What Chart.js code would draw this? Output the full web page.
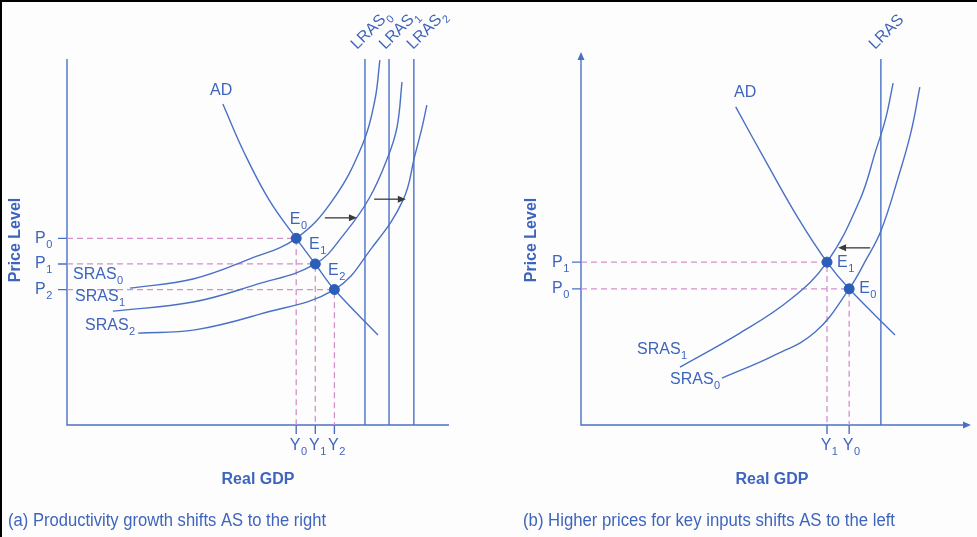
<!DOCTYPE html>
<html lang="en">
<head>
<meta charset="UTF-8">
<title>Aggregate supply shifts</title>
<style>
    html, body {
        margin: 0;
        padding: 0;
        background: #fdfdfe;
    }
    body {
        width: 977px;
        height: 537px;
        position: relative;
        overflow: hidden;
    }
    canvas {
        position: absolute;
        top: 0;
    }
    #panelA { left: 0; }
    #panelB { left: 490px; }
    .edge { position: absolute; background: #000; }
</style>
</head>
<body>
<div class="edge" style="left:0;top:0;width:977px;height:2px"></div>
<div class="edge" style="left:0;top:0;width:2px;height:537px"></div>
<canvas id="panelA" width="490" height="537"></canvas>
<canvas id="panelB" width="487" height="537"></canvas>

<script src="https://cdn.jsdelivr.net/npm/chart.js"></script>
<script>
    // ---------- panel (a): productivity growth ----------
    const aYs = [60, 65, 70];            // Y0, Y1, Y2
    const aPs = [51, 44, 37];            // P0, P1, P2
    const aLras = [78, 84.3, 90.8];      // LRAS0, LRAS1, LRAS2
    const aAdX = [40.8, 46.3, 52.9, 60, 65, 70, 81.4];
    const aAdY = [87.7, 74.6, 61.5, 51, 44, 37, 24.6];
    const aSras0X = [16.5, 33.0, 47.9, 60, 69.6, 77.5, 80.6, 81.9];
    const aSras0Y = [37.4, 39.9, 45.4, 51, 61.5, 77.0, 88.8, 99.7];
    const aSras1X = [12.0, 33.0, 49.2, 65, 72.8, 79.3, 84.0, 86.4, 87.7];
    const aSras1Y = [31.1, 33.6, 38.3, 44, 52.5, 62.3, 73.2, 81.4, 93.7];
    const aSras2X = [18.6, 33.5, 50.5, 70, 79.8, 88.0, 91.1, 92.9, 94.2];
    const aSras2Y = [25.1, 26.0, 30.3, 37, 48.4, 61.5, 73.8, 81.1, 87.4];
    const aArrowFrom = [67.5, 80.4];
    const aArrowTo = [75.9, 88.7];
    const aArrowY = [56.6, 61.7];

    // ---------- panel (b): higher input prices ----------
    const bYs = [70.2, 64.4];            // Y0, Y1
    const bPs = [37.2, 44.5];            // P0, P1
    const bLras = [78.5];
    const bAdX = [40.5, 48.6, 56.8, 64.4, 70.2, 82.2];
    const bAdY = [86.9, 71.6, 56.6, 44.5, 37.2, 24.6];
    const bSras0X = [36.9, 50.3, 61.3, 70.2, 74.6, 78.5, 83.0, 86.4, 88.7];
    const bSras0Y = [12.8, 18.9, 25.4, 37.2, 45.1, 53.0, 67.5, 80.1, 92.3];
    const bSras1X = [25.9, 41.6, 54.7, 64.4, 73.0, 77.2, 79.8, 81.7];
    const bSras1Y = [15.8, 25.1, 34.2, 44.5, 61.5, 75.1, 83.9, 93.4];
    const bArrowFrom = [75.7];
    const bArrowTo = [67.3];
    const bArrowY = [48.4];

    const LINE = '#4a70c6';
    const TEXT = '#3e65bd';
    const DOT = '#2b5eb8';
    const DASH = '#d68fcb';
    const FONT = '"Liberation Sans", Arial, sans-serif';

    function pts(xs, ys) {
        return xs.map((x, i) => ({ x: x, y: ys[i] }));
    }

    // order: lower number is drawn on top
    function curve(xs, ys) {
        return {
            data: pts(xs, ys),
            showLine: true,
            borderColor: LINE,
            borderWidth: 1.4,
            pointRadius: 0,
            tension: 0.4,
            clip: false,
            order: 2
        };
    }

    function dashed(yv, pv) {
        return {
            data: [{ x: 0, y: pv }, { x: yv, y: pv }, { x: yv, y: 0 }],
            showLine: true,
            borderColor: DASH,
            borderWidth: 1.3,
            borderDash: [6, 4],
            pointRadius: 0,
            tension: 0,
            order: 4
        };
    }

    function vertical(x) {
        return {
            data: [{ x: x, y: 0 }, { x: x, y: 100 }],
            showLine: true,
            borderColor: LINE,
            borderWidth: 1.4,
            pointRadius: 0,
            order: 3
        };
    }

    function equilibria(ys, ps) {
        return {
            data: pts(ys, ps),
            pointRadius: 5,
            pointBackgroundColor: DOT,
            pointBorderColor: DOT,
            showLine: false,
            order: 1
        };
    }

    function drawSub(ctx, main, sub, x, y, size, align, bold) {
        ctx.font = (bold ? 'bold ' : '') + size + 'px ' + FONT;
        ctx.textBaseline = 'middle';
        ctx.textAlign = 'left';
        const w = ctx.measureText(main).width;
        const x0 = align === 'center' ? x - w / 2 : x;
        ctx.fillText(main, x0, y);
        if (sub) {
            ctx.font = Math.round(size * 0.66) + 'px ' + FONT;
            ctx.fillText(sub, x0 + w + 0.5, y + size * 0.4);
        }
    }

    function arrowHead(ctx, x, y, dir) {
        // dir: 'left', 'right', 'up'
        ctx.beginPath();
        if (dir === 'right') {
            ctx.moveTo(x, y); ctx.lineTo(x - 8, y - 3.5); ctx.lineTo(x - 8, y + 3.5);
        } else if (dir === 'left') {
            ctx.moveTo(x, y); ctx.lineTo(x + 8, y - 3.5); ctx.lineTo(x + 8, y + 3.5);
        } else {
            ctx.moveTo(x, y); ctx.lineTo(x - 3.5, y + 8); ctx.lineTo(x + 3.5, y + 8);
        }
        ctx.closePath();
        ctx.fill();
    }

    const econPlugin = {
        id: 'econ',
        beforeDatasetsDraw(chart, args, o) {
            const { ctx, chartArea: a } = chart;
            const sx = chart.scales.x, sy = chart.scales.y;
            ctx.save();
            ctx.strokeStyle = LINE;
            ctx.fillStyle = LINE;
            ctx.lineWidth = 1.4;
            ctx.beginPath();
            ctx.moveTo(a.left, o.axisArrows ? a.top - 4 : a.top);
            ctx.lineTo(a.left, a.bottom);
            ctx.lineTo(o.axisArrows ? a.right + 4 : a.right, a.bottom);
            ctx.stroke();
            if (o.axisArrows) {
                arrowHead(ctx, a.left, a.top - 7, 'up');
                arrowHead(ctx, a.right + 8, a.bottom, 'right');
            }
            // tick marks
            ctx.beginPath();
            o.ps.forEach(p => {
                const y = sy.getPixelForValue(p);
                ctx.moveTo(a.left - 9, y); ctx.lineTo(a.left, y);
            });
            o.ys.forEach(v => {
                const x = sx.getPixelForValue(v);
                ctx.moveTo(x, a.bottom); ctx.lineTo(x, a.bottom + 9);
            });
            ctx.stroke();
            ctx.restore();
        },
        afterDatasetsDraw(chart, args, o) {
            const { ctx, chartArea: a } = chart;
            const sx = chart.scales.x, sy = chart.scales.y;
            const off = o.offsetX;
            ctx.save();

            // shift arrows
            ctx.strokeStyle = '#3a3a3a';
            ctx.fillStyle = '#3a3a3a';
            ctx.lineWidth = 1.3;
            o.arrowFrom.forEach((f, i) => {
                const x1 = sx.getPixelForValue(f), x2 = sx.getPixelForValue(o.arrowTo[i]);
                const y = sy.getPixelForValue(o.arrowY[i]);
                const dir = x2 > x1 ? 'right' : 'left';
                ctx.beginPath();
                ctx.moveTo(x1, y);
                ctx.lineTo(dir === 'right' ? x2 - 6 : x2 + 6, y);
                ctx.stroke();
                arrowHead(ctx, x2, y, dir);
            });

            ctx.fillStyle = TEXT;
            // P labels
            o.ps.forEach((p, i) => {
                drawSub(ctx, 'P', o.pSubs[i], o.pLabelX - off, sy.getPixelForValue(p), 16);
            });
            // Y labels
            o.ys.forEach((v, i) => {
                drawSub(ctx, 'Y', o.ySubs[i], sx.getPixelForValue(v) - 1, a.bottom + 21, 16, 'center');
            });
            // E labels
            o.ys.forEach((v, i) => {
                const x = sx.getPixelForValue(v), y = sy.getPixelForValue(o.ps[i]);
                if (o.eAbove) {
                    drawSub(ctx, 'E', o.ySubs[i], x - 1, y - 19, 16, 'center');
                } else {
                    drawSub(ctx, 'E', o.ySubs[i], x + 10, y, 16);
                }
            });
            // LRAS labels (rotated)
            o.lras.forEach((v, i) => {
                const x = sx.getPixelForValue(v) + o.lrasDx[i];
                ctx.save();
                ctx.translate(x, a.top - 12);
                ctx.rotate(-Math.PI / 4);
                drawSub(ctx, 'LRAS', o.lrasSubs[i], 0, 0, 16);
                ctx.restore();
            });
            // free labels
            o.labels.forEach(l => {
                drawSub(ctx, l.main, l.sub, l.x - off, l.y, 16);
            });
            // axis titles
            ctx.font = 'bold 16px ' + FONT;
            ctx.textAlign = 'center';
            ctx.textBaseline = 'middle';
            ctx.fillText('Real GDP', (a.left + a.right) / 2, 480);
            ctx.save();
            ctx.translate(o.titleX - off, 240);
            ctx.rotate(-Math.PI / 2);
            ctx.fillText('Price Level', 0, 0);
            ctx.restore();
            // caption
            ctx.font = '18px ' + FONT;
            ctx.textAlign = 'left';
            ctx.fillText(o.caption, o.captionX - off, 521, o.captionW);
            ctx.restore();
        }
    };

    function makeChart(id, datasets, pad, econ) {
        return new Chart(document.getElementById(id), {
            type: 'scatter',
            data: { datasets: datasets },
            options: {
                responsive: false,
                animation: false,
                layout: { padding: pad },
                scales: {
                    x: { type: 'linear', min: 0, max: 100, display: false },
                    y: { type: 'linear', min: 0, max: 100, display: false }
                },
                plugins: {
                    legend: { display: false },
                    tooltip: { enabled: false },
                    econ: econ
                }
            },
            plugins: [econPlugin]
        });
    }

    makeChart('panelA', [
        ...aYs.map((v, i) => dashed(v, aPs[i])),
        ...aLras.map(vertical),
        curve(aAdX, aAdY),
        curve(aSras0X, aSras0Y),
        curve(aSras1X, aSras1Y),
        curve(aSras2X, aSras2Y),
        equilibria(aYs, aPs)
    ], { left: 67, right: 41, top: 59, bottom: 112 }, {
        offsetX: 0,
        axisArrows: false,
        ys: aYs, ps: aPs,
        ySubs: ['0', '1', '2'], pSubs: ['0', '1', '2'],
        pLabelX: 35,
        eAbove: true,
        lras: aLras, lrasSubs: ['0', '1', '2'], lrasDx: [-11, -7, -4],
        arrowFrom: aArrowFrom, arrowTo: aArrowTo, arrowY: aArrowY,
        labels: [
            { main: 'AD', sub: '', x: 210, y: 91 },
            { main: 'SRAS', sub: '0', x: 73, y: 275 },
            { main: 'SRAS', sub: '1', x: 75, y: 297 },
            { main: 'SRAS', sub: '2', x: 85, y: 326 }
        ],
        titleX: 16,
        caption: '(a) Productivity growth shifts AS to the right',
        captionX: 8, captionW: 318
    });

    makeChart('panelB', [
        ...bYs.map((v, i) => dashed(v, bPs[i])),
        ...bLras.map(vertical),
        curve(bAdX, bAdY),
        curve(bSras0X, bSras0Y),
        curve(bSras1X, bSras1Y),
        equilibria(bYs, bPs)
    ], { left: 91, right: 14, top: 59, bottom: 112 }, {
        offsetX: 490,
        axisArrows: true,
        ys: bYs, ps: bPs,
        ySubs: ['0', '1'], pSubs: ['0', '1'],
        pLabelX: 552,
        eAbove: false,
        lras: bLras, lrasSubs: [''], lrasDx: [-9],
        arrowFrom: bArrowFrom, arrowTo: bArrowTo, arrowY: bArrowY,
        labels: [
            { main: 'AD', sub: '', x: 734, y: 93 },
            { main: 'SRAS', sub: '1', x: 637, y: 350 },
            { main: 'SRAS', sub: '0', x: 670, y: 380 }
        ],
        titleX: 532,
        caption: '(b) Higher prices for key inputs shifts AS to the left',
        captionX: 523, captionW: 372
    });
</script>
</body>
</html>
